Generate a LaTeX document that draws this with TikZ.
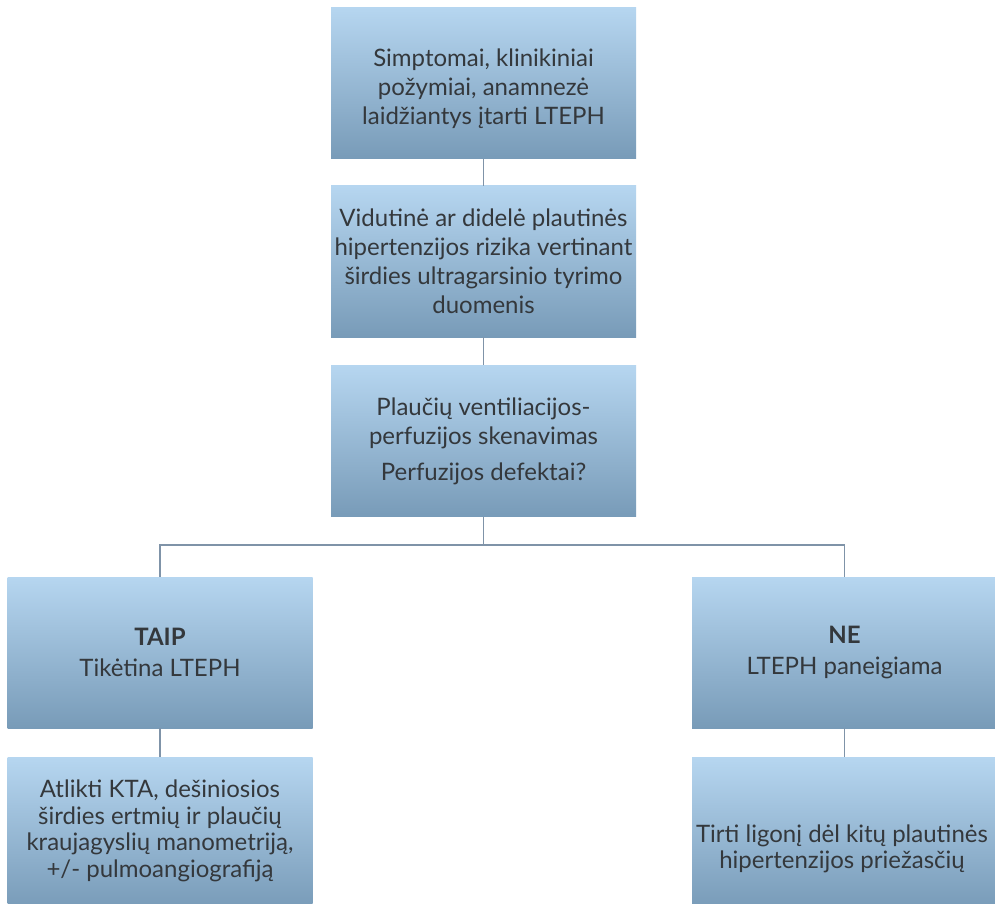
\documentclass[tikz,border=0pt]{standalone}
\usepackage{fontspec}
\setmainfont{Lato}
\definecolor{boxtop}{RGB}{182,214,240}
\definecolor{boxbot}{RGB}{120,155,184}
\definecolor{txt}{RGB}{52,56,60}
\definecolor{lnk}{RGB}{127,147,168}
\tikzset{
  fbox/.style={minimum width=305pt, minimum height=151pt, inner sep=0pt,
    top color=boxtop, bottom color=boxbot, draw=none},
  ftext/.style={text=txt, align=center, inner sep=0pt,
    font=\fontsize{24}{29}\selectfont},
  link/.style={draw=lnk, line width=1.8pt}
}
\begin{document}
\begin{tikzpicture}[x=1pt,y=-1pt]
\useasboundingbox (0,0) rectangle (995,904);
\clip (0,0) rectangle (995,904);
\fill[white] (0,0) rectangle (995,904);
\node[fbox] (b1) at (483.5,83) {};
\node[ftext] (t1) at (483.5,89) {Simptomai, klinikiniai\\požymiai, anamnezė\\laidžiantys įtarti LTEPH};
\node[fbox] (b2) at (483.5,261.5) {};
\node[ftext] (t2) at (483.5,261.5) {Vidutinė ar didelė plautinės\\hipertenzijos rizika vertinant\\širdies ultragarsinio tyrimo\\duomenis};
\node[fbox] (b3) at (483.5,441) {};
\node[ftext] (t3) at (483.5,441) {Plaučių ventiliacijos-\\perfuzijos skenavimas\\[7pt]Perfuzijos defektai?};
\node[fbox] (taip) at (160,652.5) {};
\node[ftext, font=\fontsize{24}{31}\selectfont] (ttaip) at (160,652.5) {\textbf{TAIP}\\Tikėtina LTEPH};
\node[fbox] (ne) at (844.5,652.5) {};
\node[ftext, font=\fontsize{24}{31}\selectfont] (tne) at (844.5,652.5) {\textbf{NE}\\LTEPH paneigiama};
\node[fbox] (kta) at (160,833) {};
\node[ftext, font=\fontsize{24}{26.5}\selectfont] (tkta) at (160,831) {Atlikti KTA, dešiniosios\\širdies ertmių ir plaučių\\kraujagyslių manometriją,\\+/- pulmoangiografiją};
\node[fbox] (kiti) at (844.5,833) {};
\node[ftext, font=\fontsize{24}{26.5}\selectfont] (tkiti) at (842,849) {Tirti ligonį dėl kitų plautinės\\hipertenzijos priežasčių};
\coordinate (j) at (483.5,545);
\draw[link] (b1.south) -- (b2.north);
\draw[link] (b2.south) -- (b3.north);
\draw[link] (b3.south) -- (j);
\draw[link] (j) -| (taip.north);
\draw[link] (j) -| (ne.north);
\draw[link] (taip.south) -- (kta.north);
\draw[link] (ne.south) -- (kiti.north);
\end{tikzpicture}
\end{document}
